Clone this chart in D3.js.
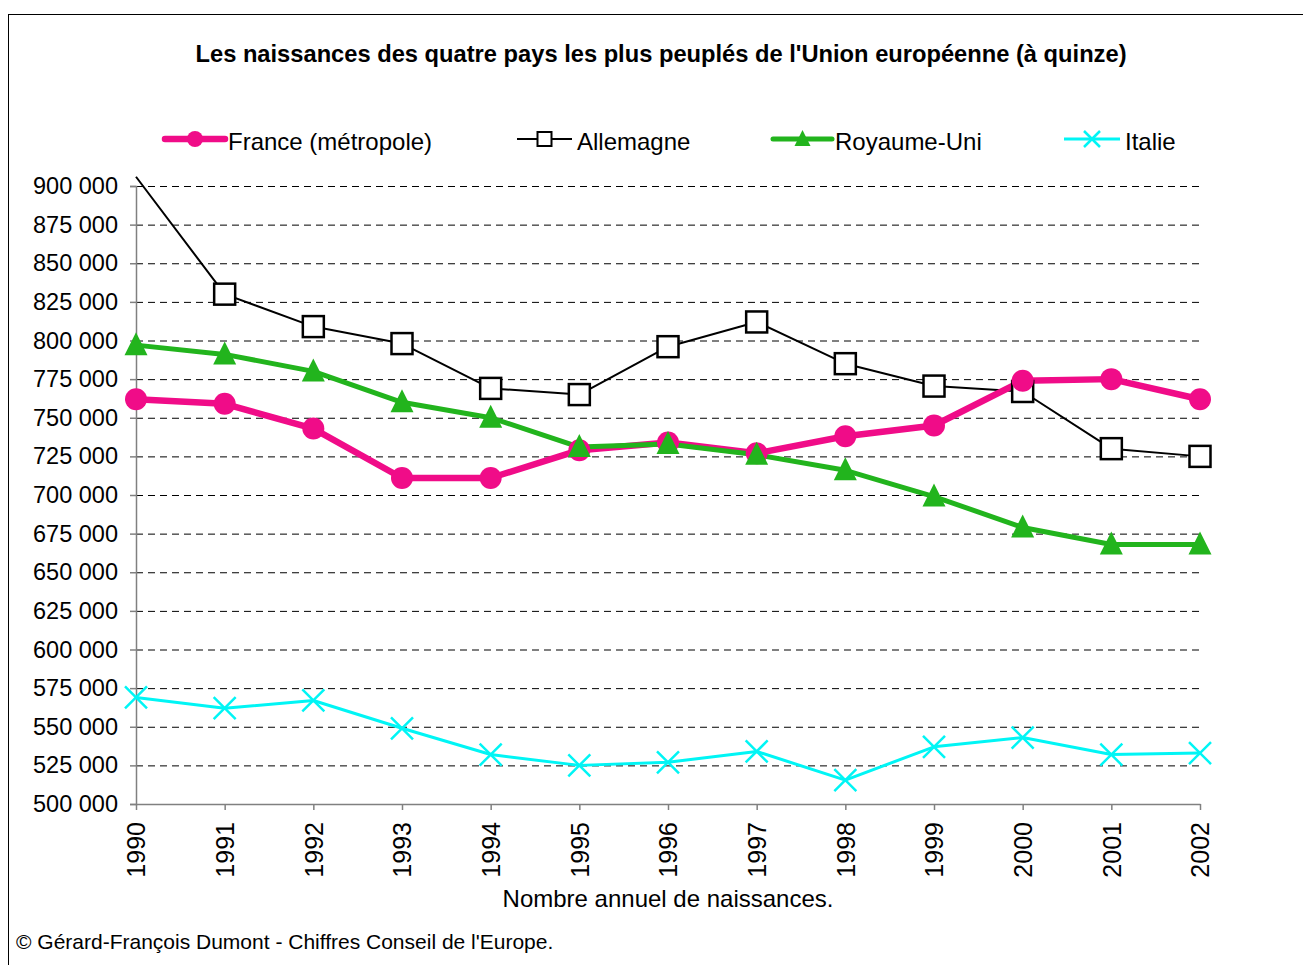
<!DOCTYPE html>
<html><head><meta charset="utf-8">
<script src="https://cdn.jsdelivr.net/npm/d3@7"></script>
<style>body{margin:0;background:#fff;font-family:"Liberation Sans",Arial,sans-serif;}</style>
</head><body>
<svg id="c" width="1303" height="965"></svg>
<script>
const years = [1990,1991,1992,1993,1994,1995,1996,1997,1998,1999,2000,2001,2002];
const france = [762000,759000,743000,711000,711000,729000,734000,727000,738000,745000,774000,775000,762000];
const allemagne = [906000,830000,809000,798000,769000,765000,796000,812000,785000,770500,767000,730000,725000];
const royaumeUni = [797000,791000,780000,760000,750000,731000,733000,726000,716000,699000,679000,668000,668000];
const italie = [569000,562000,567000,549000,532000,525000,527000,534000,515500,537000,543000,532000,533000];
const yTicks = d3.range(500000, 900001, 25000);
const seriesNames = ["France (métropole)","Allemagne","Royaume-Uni","Italie"];

const svg = d3.select("#c");
svg.append("rect").attr("x",8.5).attr("y",14.5).attr("width",1310).attr("height",970)
  .attr("fill","none").attr("stroke","#000").attr("stroke-width",1);

const x = d3.scalePoint().domain(years).range([136,1200]);
const y = d3.scaleLinear().domain([500000,900000]).range([804,186]);

svg.append("text").attr("x",661).attr("y",62).attr("text-anchor","middle")
  .attr("font-size",23.7).attr("font-weight","bold").text("Les naissances des quatre pays les plus peuplés de l'Union européenne (à quinze)");

// gridlines
svg.append("g").selectAll("line").data(yTicks.filter(d=>d>500000)).join("line")
  .attr("x1",136).attr("x2",1200).attr("y1",d=>y(d)+0.5).attr("y2",d=>y(d)+0.5)
  .attr("stroke","#000").attr("stroke-dasharray","7,5").attr("stroke-width",1);

const fmt = d => d3.format(",")(d).replace(/,/g," ");
const yAxis = svg.append("g").attr("transform","translate(136,0)")
  .call(d3.axisLeft(y).tickValues(yTicks).tickFormat(fmt).tickSize(6).tickPadding(12));
yAxis.selectAll("text").attr("font-size",23.5).attr("fill","#000").attr("font-family","Liberation Sans, Arial, sans-serif");
yAxis.selectAll("line,path").attr("stroke","#808080").attr("stroke-width",1.5);

const xAxis = svg.append("g").attr("transform","translate(0,804)")
  .call(d3.axisBottom(x).tickSize(6).tickSizeOuter(0));
xAxis.select("path").attr("stroke","#808080").attr("stroke-width",1.5);
xAxis.selectAll("line").attr("stroke","#808080").attr("stroke-width",1.5);
xAxis.selectAll("text").attr("font-size",25).attr("fill","#000").attr("font-family","Liberation Sans, Arial, sans-serif")
  .attr("transform","rotate(-90)").attr("text-anchor","end").attr("x",-18).attr("y",0).attr("dy","0.35em");

svg.append("text").attr("x",668).attr("y",907).attr("text-anchor","middle").attr("font-size",24).text("Nombre annuel de naissances.");
svg.append("text").attr("x",16).attr("y",949).attr("font-size",21).text("© Gérard-François Dumont - Chiffres Conseil de l'Europe.");

const clip = svg.append("defs").append("clipPath").attr("id","clip").append("rect")
  .attr("x",0).attr("y",170).attr("width",1303).attr("height",700);

const line = d3.line().x((d,i)=>x(years[i])).y(d=>y(d));
const g = svg.append("g").attr("clip-path","url(#clip)");

const pink = "#f00c88", green = "#22b41d", cyan = "#00f5f5";

function drawMarker(sel, type, cx, cy){
  if(type==="circle") sel.append("circle").attr("cx",cx).attr("cy",cy).attr("r",11).attr("fill",pink);
  else if(type==="square") sel.append("rect").attr("x",cx-10.5).attr("y",cy-10.5).attr("width",21).attr("height",21)
    .attr("fill","#fff").attr("stroke","#000").attr("stroke-width",2.5);
  else if(type==="tri") sel.append("path").attr("d",`M${cx},${cy-13}L${cx+11.5},${cy+10}L${cx-11.5},${cy+10}Z`).attr("fill",green);
  else if(type==="x") sel.append("path").attr("d",`M${cx-11},${cy-11}L${cx+11},${cy+11}M${cx-11},${cy+11}L${cx+11},${cy-11}`)
    .attr("stroke",cyan).attr("stroke-width",2.5).attr("fill","none");
}

const series = [
  {name:seriesNames[3], vals:italie, color:cyan, w:3, m:"x"},
  {name:seriesNames[1], vals:allemagne, color:"#000", w:2, m:"square"},
  {name:seriesNames[0], vals:france, color:pink, w:6.5, m:"circle"},
  {name:seriesNames[2], vals:royaumeUni, color:green, w:5, m:"tri"},
];
series.forEach(s=>{
  g.append("path").datum(s.vals).attr("d",line).attr("fill","none").attr("stroke",s.color)
    .attr("stroke-width",s.w).attr("stroke-linejoin","round");
  const mg = svg.append("g");
  s.vals.forEach((v,i)=>{ if(v<=900000) drawMarker(mg, s.m, x(years[i]), y(v)); });
});

// legend
const leg = [
  {t:seriesNames[0], c:pink, w:6.5, m:"circle", x1:165, x2:225, tx:228},
  {t:seriesNames[1], c:"#000", w:2, m:"square", x1:517, x2:572, tx:577},
  {t:seriesNames[2], c:green, w:5, m:"tri", x1:773, x2:832, tx:835},
  {t:seriesNames[3], c:cyan, w:3, m:"x", x1:1064, x2:1120, tx:1125},
];
const lg = svg.append("g");
leg.forEach(l=>{
  lg.append("line").attr("x1",l.x1).attr("x2",l.x2).attr("y1",139).attr("y2",139).attr("stroke",l.c)
    .attr("stroke-width",l.w).attr("stroke-linecap",l.m==="circle"||l.m==="tri"?"round":"butt");
  const cx=(l.x1+l.x2)/2;
  if(l.m==="circle") lg.append("circle").attr("cx",cx).attr("cy",139).attr("r",8).attr("fill",pink);
  else if(l.m==="square") lg.append("rect").attr("x",cx-7).attr("y",132).attr("width",14).attr("height",14).attr("fill","#fff").attr("stroke","#000").attr("stroke-width",2);
  else if(l.m==="tri") lg.append("path").attr("d",`M${cx},${130}L${cx+8},${146}L${cx-8},${146}Z`).attr("fill",green);
  else lg.append("path").attr("d",`M${cx-8},${131}L${cx+8},${147}M${cx-8},${147}L${cx+8},${131}`).attr("stroke",cyan).attr("stroke-width",2.5);
  lg.append("text").attr("x",l.tx).attr("y",150).attr("font-size",24).text(l.t);
});
</script>
</body></html>
